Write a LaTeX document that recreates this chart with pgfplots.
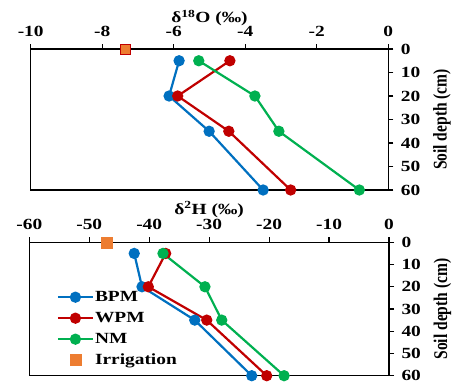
\documentclass[border=0pt]{standalone}
\usepackage{pgfplots}
\pgfplotsset{compat=1.18}
\usepackage{fontspec}
\setmainfont{Liberation Serif}[FakeStretch=1.25]
\newfontfamily\plainfont{Liberation Serif}
\definecolor{cblue}{RGB}{0,112,192}
\definecolor{cred}{RGB}{192,0,0}
\definecolor{cgreen}{RGB}{0,176,80}
\definecolor{corange}{RGB}{237,125,49}
\pgfplotsset{
 myaxis/.style={scale only axis, clip=false,
  xtick pos=right, xticklabel pos=right, ytick pos=right, yticklabel pos=right,
  tick align=outside, major tick length=5pt,
  y dir=reverse, ymin=0, ymax=60, ytick={0,10,...,60},
  axis line style={line width=1.2pt}, every tick/.style={black,line width=1.2pt},
  ticklabel style={font=\fontsize{15.5}{15.5}\selectfont\bfseries},
  xticklabel style={yshift=4pt},
  yticklabel style={xshift=4pt},
  label style={font=\fontsize{15.5}{15.5}\selectfont\bfseries},
  xlabel style={yshift=-7pt},
  ylabel style={xshift=0pt, yshift=-6pt},
  /pgf/number format/assume math mode=true,
  ylabel={\plainfont\scalebox{1}[1.25]{Soil depth (cm)}},
 },
 ser/.style={color=#1, line width=2.2pt, mark=*, mark size=4.5pt,
  legend image code/.code={\draw[##1,mark repeat=2,mark phase=2] plot coordinates {(0pt,0pt) (17.5pt,0pt) (35pt,0pt)};}},
 irrleg/.style={legend image code/.code={\draw[##1] plot coordinates {(17.5pt,0pt)};}},
}
\begin{document}
\begin{tikzpicture}
\path[use as bounding box] (0pt,0pt) rectangle (457pt,-383pt);
\begin{axis}[myaxis, at={(30.7pt,-49pt)}, anchor=north west, width=357.6pt, height=141pt,
  xmin=-10, xmax=0, xtick={-10,-8,...,0},
  xlabel={δ\textsuperscript{18}O (‰)}]
\addplot[ser=cblue] coordinates {(-5.85,5) (-6.13,20) (-5.01,35) (-3.50,60)};
\addplot[ser=cred] coordinates {(-4.43,5) (-5.89,20) (-4.46,35) (-2.73,60)};
\addplot[ser=cgreen] coordinates {(-5.30,5) (-3.73,20) (-3.06,35) (-0.81,60)};
\addplot[only marks, mark=square*, mark size=5pt, fill=corange, draw=cred, line width=1pt] coordinates {(-7.35,0)};
\end{axis}
\begin{axis}[myaxis, at={(29.3pt,-242.3pt)}, anchor=north west, width=359.7pt, height=133.4pt,
  xmin=-60, xmax=0, xtick={-60,-50,...,0},
  xlabel={δ\textsuperscript{2}H (‰)},
  xlabel style={yshift=2pt},
  legend cell align=left,
  legend style={at={(0.076,0.65)}, anchor=north west, draw=none, fill=none, inner sep=0pt,
   font=\fontsize{15.5}{15.5}\selectfont\bfseries, row sep=5pt,
   nodes={inner sep=1pt, text height=11pt, text depth=3pt}}]
\addplot[ser=cblue] coordinates {(-42.5,5) (-41.2,20) (-32.4,35) (-22.9,60)};
\addplot[ser=cred] coordinates {(-37.25,5) (-40.15,20) (-30.4,35) (-20.4,60)};
\addplot[ser=cgreen] coordinates {(-37.7,5) (-30.7,20) (-27.9,35) (-17.5,60)};
\addplot[only marks, mark=square*, mark size=5.5pt, color=corange, irrleg] coordinates {(-47.1,0)};
\legend{BPM,WPM,NM,Irrigation}
\end{axis}
\end{tikzpicture}
\end{document}
